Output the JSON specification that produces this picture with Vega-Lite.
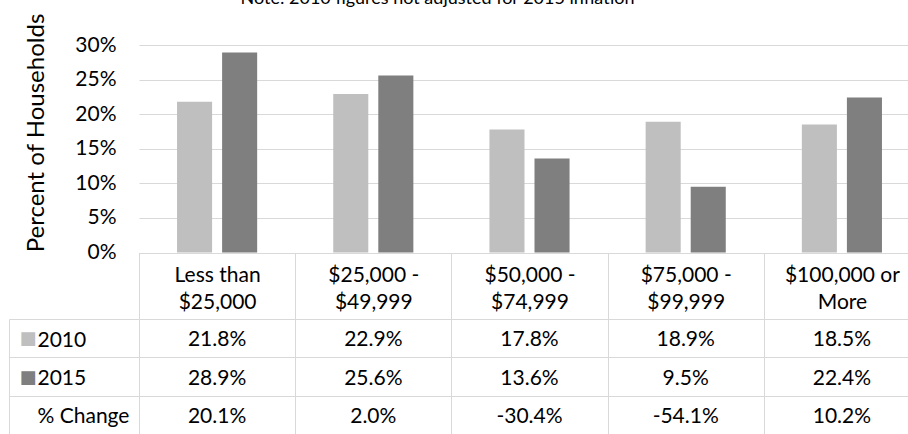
{
  "$schema": "https://vega.github.io/schema/vega-lite/v6.json",
  "padding": {"left": 8, "top": -10, "right": 0, "bottom": 0},
  "background": "white",
  "config": {
    "font": "Lato",
    "view": {"stroke": null},
    "locale": {"number": {"decimal": ".", "thousands": ",", "grouping": [3], "currency": ["$", ""], "minus": "-"}}
  },
  "title": {"text": "Note: 2010 figures not adjusted for 2015 inflation", "fontSize": 18, "fontWeight": "normal", "font": "Lato", "color": "black", "anchor": "middle", "offset": 5, "dx": -27},
  "datasets": {
    "rows": [
      {"income": "Less than $25,000", "series": "2010", "value": 0.218},
      {"income": "$25,000 - $49,999", "series": "2010", "value": 0.229},
      {"income": "$50,000 - $74,999", "series": "2010", "value": 0.178},
      {"income": "$75,000 - $99,999", "series": "2010", "value": 0.189},
      {"income": "$100,000 or More", "series": "2010", "value": 0.185},
      {"income": "Less than $25,000", "series": "2015", "value": 0.289},
      {"income": "$25,000 - $49,999", "series": "2015", "value": 0.256},
      {"income": "$50,000 - $74,999", "series": "2015", "value": 0.136},
      {"income": "$75,000 - $99,999", "series": "2015", "value": 0.095},
      {"income": "$100,000 or More", "series": "2015", "value": 0.224},
      {"income": "Less than $25,000", "series": "% Change", "value": 0.201},
      {"income": "$25,000 - $49,999", "series": "% Change", "value": 0.020},
      {"income": "$50,000 - $74,999", "series": "% Change", "value": -0.304},
      {"income": "$75,000 - $99,999", "series": "% Change", "value": -0.541},
      {"income": "$100,000 or More", "series": "% Change", "value": 0.102}
    ]
  },
  "spacing": -11,
  "vconcat": [
    {
      "width": 781,
      "height": 207.5,
      "data": {"name": "rows"},
      "transform": [{"filter": "datum.series != '% Change'"}],
      "mark": {"type": "bar"},
      "encoding": {
        "x": {
          "field": "income", "type": "nominal", "title": null,
          "sort": ["Less than $25,000", "$25,000 - $49,999", "$50,000 - $74,999", "$75,000 - $99,999", "$100,000 or More"],
          "scale": {"paddingInner": 0, "paddingOuter": 0},
          "axis": {
            "domain": false, "grid": false, "ticks": true, "tickBand": "extent", "tickSize": 66,
            "tickColor": "#d9d9d9", "tickWidth": 1,
            "labelAngle": 0, "labelFontSize": 21, "labelColor": "black", "labelFont": "Lato",
            "labelBaseline": "middle", "labelLineHeight": 27, "labelPadding": -43,
            "labelLimit": 0, "labelOverlap": false,
            "labelExpr": "[slice(datum.label, 0, lastindexof(datum.label, ' ')), slice(datum.label, lastindexof(datum.label, ' ') + 1)]",
            "minExtent": 66, "maxExtent": 66
          }
        },
        "xOffset": {"field": "series", "type": "nominal", "sort": ["2010", "2015"], "scale": {"paddingInner": 0.222, "paddingOuter": 0.844}},
        "y": {
          "field": "value", "type": "quantitative", "title": "Percent of Households",
          "scale": {"domain": [0, 0.3], "nice": false},
          "axis": {
            "format": ".0%", "values": [0, 0.05, 0.1, 0.15, 0.2, 0.25, 0.3],
            "domain": false, "ticks": false, "grid": true, "gridColor": "#d9d9d9", "gridWidth": 1,
            "labelFontSize": 21, "labelColor": "black", "labelPadding": 23,
            "minExtent": 63, "maxExtent": 63,
            "titleFontSize": 24, "titleFontWeight": "normal", "titleColor": "black", "titlePadding": 28, "titleY": 87.5
          }
        },
        "color": {"field": "series", "type": "nominal", "scale": {"domain": ["2010", "2015"], "range": ["#bfbfbf", "#7f7f7f"]}, "legend": null}
      }
    },
    {
      "width": 781,
      "height": 115,
      "data": {"name": "rows"},
      "layer": [
        {
          "mark": {"type": "text", "fontSize": 21, "color": "black", "baseline": "middle", "dy": 2},
          "encoding": {
            "x": {
              "field": "income", "type": "nominal", "title": null,
              "sort": ["Less than $25,000", "$25,000 - $49,999", "$50,000 - $74,999", "$75,000 - $99,999", "$100,000 or More"],
              "scale": {"paddingInner": 0, "paddingOuter": 0},
              "axis": {"labels": false, "ticks": false, "domain": false, "grid": true, "tickBand": "extent", "gridColor": "#d9d9d9", "gridWidth": 1}
            },
            "y": {
              "field": "series", "type": "nominal", "title": null,
              "sort": ["2010", "2015", "% Change"],
              "scale": {"paddingInner": 0, "paddingOuter": 0},
              "axis": {
                "orient": "left", "domain": false, "ticks": true, "tickBand": "extent", "tickSize": 130,
                "tickColor": "#d9d9d9", "tickWidth": 1, "grid": true, "gridColor": "#d9d9d9", "gridWidth": 1,
                "labelAlign": "left", "labelBaseline": "middle", "labelPadding": -28, "labelOffset": 2,
                "labelFontSize": 21, "labelColor": "black"
              }
            },
            "text": {"field": "value", "type": "quantitative", "format": ".1%"}
          }
        },
        {
          "mark": {"type": "text", "opacity": 0},
          "encoding": {
            "x": {
              "field": "income", "type": "nominal", "title": null,
              "sort": ["Less than $25,000", "$25,000 - $49,999", "$50,000 - $74,999", "$75,000 - $99,999", "$100,000 or More"]
            },
            "y": {
              "field": "series", "type": "nominal", "title": null,
              "sort": ["2010", "2015", "% Change"],
              "axis": {
                "orient": "left", "offset": 130, "domain": true, "domainColor": "#d9d9d9", "domainWidth": 1,
                "ticks": false, "grid": false,
                "labelExpr": "datum.value == '% Change' ? '' : '■'",
                "labelFont": "DejaVu Sans", "labelFontSize": 18, "labelAlign": "left", "labelBaseline": "middle",
                "labelPadding": -10, "labelOffset": 1,
                "labelColor": {"condition": {"test": "datum.value == '2010'", "value": "#bfbfbf"}, "value": "#7f7f7f"}
              }
            },
            "text": {"field": "value", "type": "quantitative", "format": ".1%"}
          }
        }
      ],
      "resolve": {"axis": {"y": "independent"}}
    }
  ]
}
